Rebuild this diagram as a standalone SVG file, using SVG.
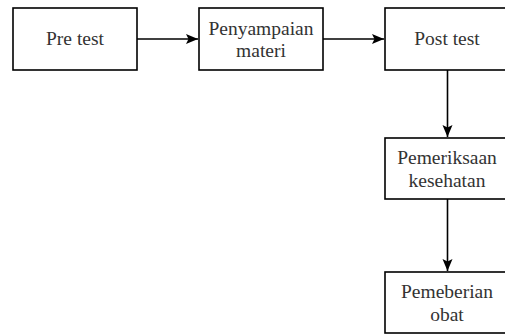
<svg xmlns="http://www.w3.org/2000/svg" width="505" height="335" viewBox="0 0 505 335">
<style>
.box{fill:#ffffff;stroke:#000000;stroke-width:1.6}
.lbl{font-family:"Liberation Serif","Times New Roman",serif;font-size:19.5px;fill:#333333;text-anchor:middle}
.conn{stroke:#000000;stroke-width:1.6;fill:none}
</style>
<defs>
<marker id="arr" markerWidth="13" markerHeight="11" refX="12" refY="5.5" orient="auto" markerUnits="userSpaceOnUse">
<path d="M0,0.5 L12,5.5 L0,10.5 L2.5,5.5 Z" fill="#000000"/>
</marker>
</defs>
<rect width="505" height="335" fill="#ffffff"/>
<g id="connectors">
<line class="conn" x1="137" y1="39" x2="198" y2="39" marker-end="url(#arr)"/>
<line class="conn" x1="323" y1="39" x2="384" y2="39" marker-end="url(#arr)"/>
<line class="conn" x1="447.5" y1="70" x2="447.5" y2="137" marker-end="url(#arr)"/>
<line class="conn" x1="447.5" y1="199" x2="447.5" y2="271" marker-end="url(#arr)"/>
</g>
<g id="pre-test">
<rect class="box" x="13" y="8" width="124" height="62"/>
<text class="lbl" x="75" y="45">Pre test</text>
</g>
<g id="penyampaian-materi">
<rect class="box" x="199" y="8" width="124" height="62"/>
<text class="lbl" x="261" y="35">Penyampaian</text>
<text class="lbl" x="261" y="57">materi</text>
</g>
<g id="post-test">
<rect class="box" x="385" y="8" width="124" height="62"/>
<text class="lbl" x="447" y="45">Post test</text>
</g>
<g id="pemeriksaan-kesehatan">
<rect class="box" x="385" y="138" width="124" height="61"/>
<text class="lbl" x="447" y="164">Pemeriksaan</text>
<text class="lbl" x="447" y="186.5">kesehatan</text>
</g>
<g id="pemeberian-obat">
<rect class="box" x="385" y="272" width="124" height="61"/>
<text class="lbl" x="447" y="298">Pemeberian</text>
<text class="lbl" x="447" y="320.5">obat</text>
</g>
</svg>
